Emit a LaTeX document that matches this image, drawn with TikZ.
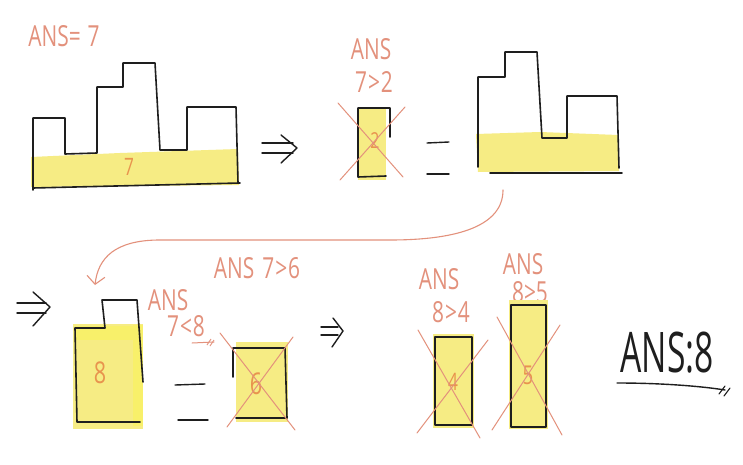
\documentclass[tikz,border=0pt]{standalone}
\usepackage{fontspec}
\setmainfont{Open Sans}
\newfontfamily\hand[FakeStretch=0.72]{Open Sans}
\newfontfamily\handbig[FakeStretch=0.6]{Open Sans}
\usetikzlibrary{arrows.meta}
\definecolor{hl}{HTML}{F6EC84}
\definecolor{sal}{HTML}{E3917C}
\definecolor{org}{HTML}{E8944E}
\definecolor{ink}{HTML}{1E1E1E}
\tikzset{
  outline/.style={draw=ink, line width=1.6pt, line join=round, line cap=round},
  band/.style={fill=hl, draw=none},
  lbl/.style={text=sal, font=\hand\fontsize{29}{30}\selectfont, inner sep=0pt},
  num/.style={text=org, font=\hand\fontsize{#1}{#1}\selectfont, inner sep=0pt},
  cross/.style={draw=sal, line width=1pt, line cap=round},
  eqline/.style={draw=ink, line width=1.4pt, line cap=round},
  impl/.style={draw=ink, line width=1.4pt, line cap=round, line join=round},
  curvearrow/.style={draw=sal, line width=1.1pt, line cap=round, -{Straight Barb[length=8pt,width=18pt,line width=1.1pt]}},
}
\begin{document}
\begin{tikzpicture}[x=1pt,y=-1pt]
\useasboundingbox[fill=white] (0,0) rectangle (743,465);

% ---------- row 1: first histogram ----------
\node[lbl] (ans7) at (64,36) {ANS=\hspace{7pt}7};
\fill[band] (31,157) -- (120,153) -- (238,149) -- (239,185) -- (31,187) -- cycle;
\draw[outline] (33,190) -- (33,118) -- (65,118) -- (65,154) -- (97,153) -- (97,87) -- (123,87)
  -- (123,63) -- (155,63) -- (160,150) -- (187,150) -- (187,107) -- (236,107) -- (238,183);
\draw[outline] (33,188) -- (240,183);
\node[num=24] (n7) at (129,167) {7};

% implies 1
\draw[impl] (262,143) -- (293,143) (262,153) -- (293,153);
\draw[impl] (281,135) -- (297,148) -- (281,163);

% small bar 2
\node[lbl] (ans2a) at (371,49) {ANS};
\node[lbl] (ans2b) at (374,82) {7\hspace{1pt}>\hspace{1pt}2};
\fill[band] (358,108) rectangle (386,180);
\draw[outline] (390,137) -- (390,108) -- (358,108) -- (358,177) -- (386,176);
\node[num=22] (n2) at (375,141) {2};
\draw[cross] (338,103) -- (403,177);
\draw[cross] (405,107) -- (340,180);

% equals 1
\draw[eqline] (427,143) -- (449,142);
\draw[eqline] (427,174) -- (449,174);

% second histogram
\fill[band] (476,134) -- (540,132) -- (618,135) -- (619,171) -- (478,172) -- cycle;
\draw[outline] (478,167) -- (478,77) -- (505,77) -- (505,52) -- (537,52) -- (542,138)
  -- (567,138) -- (567,96) -- (617,96) -- (619,168);
\draw[outline] (490,173) -- (622,173);

% curved arrow
\coordinate (cfrom) at (503,190);
\coordinate (cto) at (95,285);
\draw[curvearrow] (cfrom) .. controls (503,225) and (460,240) .. (390,240)
  -- (160,240) .. controls (115,240) and (98,258) .. (cto);
\node[lbl] (ans76) at (257,268) {ANS\hspace{8pt}7\hspace{1pt}>\hspace{1pt}6};

% ---------- row 2 ----------
\draw[impl] (17,303) -- (46,303) (17,313) -- (46,313);
\draw[impl] (33,292) -- (50,307) -- (33,326);

% shape with 8
\fill[band] (73,324) rectangle (143,429);
\fill[hl!80!yellow] (133,325) rectangle (143,426);
\fill[hl!80!yellow] (75,326) rectangle (143,340);
\draw[outline] (143,382) -- (137,300) -- (102,300) -- (105,328) -- (75,328) -- (77,422) -- (140,422);
\node[num=30] (n8) at (100,373) {8};

\node[lbl] (ans8a) at (168,300) {ANS};
\node[lbl] (ans8b) at (186,326) {7\hspace{1pt}<\hspace{1pt}8};
\coordinate (ua) at (192,343);
\coordinate (ub) at (214,342);
\draw[draw=sal, line width=1pt, line cap=round] (ua) -- (ub);
\draw[draw=sal, line width=0.9pt] (207,345) -- (211,339) (210,346) -- (214,340);

% equals 2
\draw[eqline] (175,385) -- (205,384);
\draw[eqline] (178,420) -- (208,420);

% box 6
\fill[band] (236,342) rectangle (288,422);
\draw[outline] (233,377) -- (233,348) -- (285,348) -- (287,418) -- (236,418);
\node[num=30] (n6) at (256,384) {6};
\draw[cross] (220,333) -- (295,430);
\draw[cross] (293,337) -- (227,427);

% implies 3
\draw[impl] (321,327) -- (338,327) (321,335) -- (338,335);
\draw[impl] (333,318) -- (343,331) -- (332,347);

% bar 4
\node[lbl] (ans4a) at (439,279) {ANS};
\node[lbl] (ans4b) at (451,312) {8\hspace{1pt}>\hspace{1pt}4};
\fill[band] (433,334) rectangle (474,428);
\draw[outline] (435,337) rectangle (472,425);
\node[num=24] (n4) at (453,382) {4};
\draw[cross] (418,330) -- (480,438);
\draw[cross] (488,340) -- (417,433);

% bar 5
\node[lbl] (ans5a) at (523,264) {ANS};
\node[lbl] (ans5b) at (530,292) {8>5};
\fill[band] (509,300) rectangle (548,429);
\draw[outline] (511,305) rectangle (546,427);
\node[num=26] (n5) at (528,375) {5};
\draw[cross] (497,317) -- (562,435);
\draw[cross] (560,325) -- (492,430);

% final answer
\node[text=ink, font=\handbig\fontsize{56}{58}\selectfont, inner sep=0pt] (final) at (667,353) {ANS:8};
\coordinate (fa) at (617,383);
\coordinate (fb) at (725,390);
\draw[draw=ink, line width=1.4pt, line cap=round] (fa) .. controls (660,383) and (700,386) .. (fb);
\draw[draw=ink, line width=1.1pt, line cap=round] (719,394) -- (725,386) (724,396) -- (730,388);
\end{tikzpicture}
\end{document}
